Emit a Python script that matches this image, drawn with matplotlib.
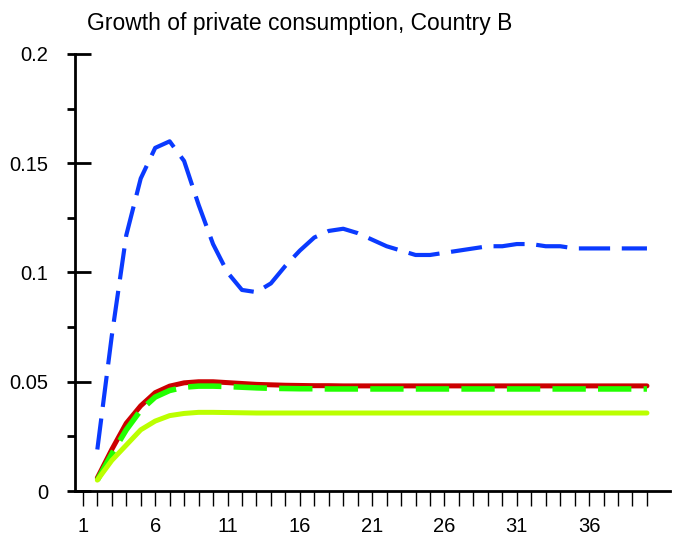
import matplotlib
matplotlib.use("Agg")
import matplotlib.pyplot as plt
from matplotlib.ticker import MultipleLocator

plt.rcParams['font.family'] = ['Liberation Sans', 'DejaVu Sans']

# periodes 2..40
periods = list(range(2, 41))

blue = [0.019, 0.071, 0.117, 0.143, 0.157, 0.160, 0.151, 0.131, 0.113, 0.100,
        0.092, 0.091, 0.095, 0.103, 0.110, 0.116, 0.119, 0.120, 0.118, 0.115,
        0.112, 0.110, 0.108, 0.108, 0.109, 0.110, 0.111, 0.112, 0.112, 0.113,
        0.113, 0.112, 0.112, 0.111, 0.111, 0.111, 0.111, 0.111, 0.111]

red = [0.006, 0.019, 0.031, 0.039, 0.045, 0.048, 0.0495, 0.050, 0.050, 0.0496,
       0.0492, 0.0488, 0.0486, 0.0484, 0.0483, 0.0482, 0.0482, 0.0481, 0.0481, 0.0481,
       0.0481, 0.0481, 0.0481, 0.0481, 0.0481, 0.0481, 0.0481, 0.0481, 0.0481, 0.0481,
       0.0481, 0.0481, 0.0481, 0.0481, 0.0481, 0.0481, 0.0481, 0.0481, 0.0481]

green = [0.005, 0.017, 0.028, 0.037, 0.043, 0.046, 0.0475, 0.048, 0.048, 0.0478,
         0.0475, 0.0472, 0.047, 0.0469, 0.0468, 0.0468, 0.0467, 0.0467, 0.0467, 0.0467,
         0.0467, 0.0467, 0.0467, 0.0467, 0.0467, 0.0467, 0.0467, 0.0467, 0.0467, 0.0467,
         0.0467, 0.0467, 0.0467, 0.0467, 0.0467, 0.0467, 0.0467, 0.0467, 0.0467]

yellow = [0.005, 0.014, 0.021, 0.028, 0.032, 0.0345, 0.0355, 0.036, 0.036, 0.0359,
          0.0358, 0.0357, 0.0357, 0.0357, 0.0357, 0.0357, 0.0357, 0.0357, 0.0357, 0.0357,
          0.0357, 0.0357, 0.0357, 0.0357, 0.0357, 0.0357, 0.0357, 0.0357, 0.0357, 0.0357,
          0.0357, 0.0357, 0.0357, 0.0357, 0.0357, 0.0357, 0.0357, 0.0357, 0.0357]

x_ticks = list(range(1, 41))
x_labels = [str(t) if (t - 1) % 5 == 0 else '' for t in x_ticks]
y_ticks = [0, 0.05, 0.1, 0.15, 0.2]
y_labels = ['0', '0.05', '0.1', '0.15', '0.2']

fig = plt.figure(figsize=(6.81, 5.39), dpi=100)
ax = fig.add_axes([0.110, 0.089, 0.874, 0.811])

ax.plot(periods, red, color='#cc0000', lw=3.6, solid_capstyle='round')
ax.plot(periods, green, color='#22ff00', lw=4, dashes=(6, 2.2))
ax.plot(periods, yellow, color='#bbff00', lw=3.6, solid_capstyle='round')
ax.plot(periods, blue, color='#0a3aff', lw=3, dashes=(7.5, 2.8))

ax.set_xlim(0.45, 41.6)
ax.set_ylim(0, 0.2)

for s in ['top', 'right']:
    ax.spines[s].set_visible(False)
for s in ['left', 'bottom']:
    ax.spines[s].set_linewidth(2)

ax.set_xticks(x_ticks)
ax.set_xticklabels(x_labels)
ax.set_yticks(y_ticks)
ax.set_yticklabels(y_labels)
ax.yaxis.set_minor_locator(MultipleLocator(0.025))
ax.yaxis.remove_overlapping_locs = False

ax.tick_params(axis='x', direction='out', length=10.8, width=1, pad=8, labelsize=14.5)
ax.tick_params(axis='y', which='major', direction='in', length=11.5, width=2, pad=19, labelsize=14.5)
ax.tick_params(axis='y', which='minor', direction='out', length=5.8, width=2)

fig.text(0.128, 0.944, 'Growth of private consumption, Country B', fontsize=16.5, va='baseline')

fig.savefig('out.png', dpi=100)
